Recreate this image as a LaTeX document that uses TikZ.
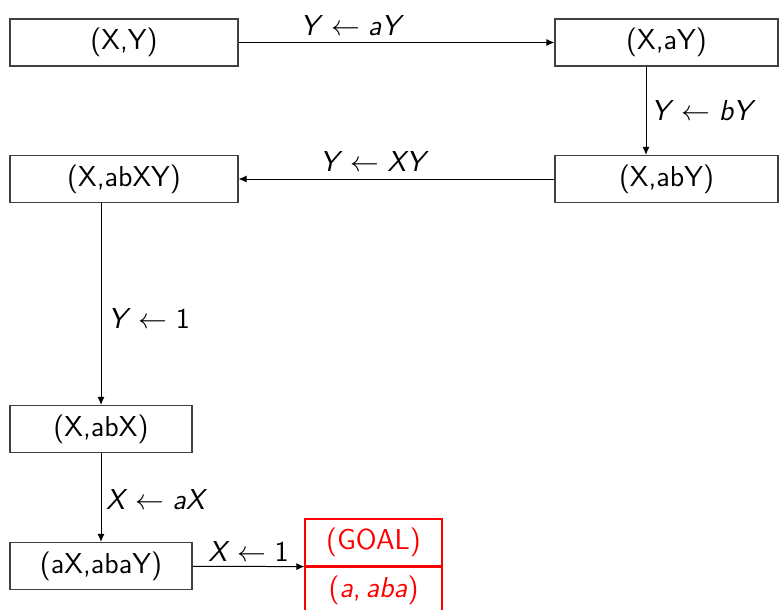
\documentclass[tikz,border=0pt]{standalone}
\usepackage{fontspec}
\usepackage{tikz}
\usetikzlibrary{positioning,arrows.meta,calc}
\definecolor{goal}{HTML}{FF0000}

\newcommand{\rw}[2]{\textit{#1}$\;\leftarrow\;$\textit{#2}}

\begin{document}
\begin{tikzpicture}[
        x=0.5pt, y=-0.5pt,
        every node/.style={font=\sffamily\Large},
        statebox/.style={rectangle, draw=black!75, line width=0.6pt,
        minimum height=23.5pt, inner sep=0pt},
        widebox/.style={statebox, minimum width=114pt},
        rightbox/.style={statebox, minimum width=111.5pt},
        smallbox/.style={statebox, minimum width=91pt},
        goalbox/.style={rectangle, draw=goal, line width=0.6pt,
        minimum width=68.5pt, minimum height=23.5pt, inner sep=0pt,
        text=goal},
        flow/.style={-{Latex[length=4pt,width=3.5pt]}, line width=0.5pt,
        draw=black},
      ]
      \useasboundingbox (0,0) rectangle (779,609);

      % Top row
      \node[widebox] (xy) at (124, 42.5) {(X,Y)};
      \node[rightbox] (xay) at (666.5, 42.5) {(X,aY)};
      \draw[flow] (xy) -- node[above, pos=0.36] {\rw{Y}{aY}} (xay);

      % Second row, going back to the left
      \node[rightbox] (xaby) at (666.5, 179) {(X,abY)};
      \node[widebox] (xabxy) at (124, 179) {(X,abXY)};
      \draw[flow] ([xshift=-10.25pt]xay.south) -- node[right=-1pt]
      {\rw{Y}{bY}} ([xshift=-10.25pt]xaby.north);
      \draw[flow] (xaby) -- node[above, pos=0.57] {\rw{Y}{XY}} (xabxy);

      % Left column down to the goal
      \node[smallbox] (xabx) at (101, 429) {(X,abX)};
      \node[smallbox] (axabay) at (101, 566) {(aX,abaY)};
      \draw[flow] (xabxy.south -| xabx.north) -- node[right, pos=0.57]
      {\rw{Y}{\upshape 1}} (xabx);
      \draw[flow] (xabx) -- node[right=-1pt, pos=0.52] {\rw{X}{aX}}
      (axabay);

      % Goal, split in two parts
      \node[goalbox] (goal) at (373.5, 542.5) {(GOAL)};
      \node[goalbox, below=0pt of goal] (goalval)
      {(\textit{a},\,\textit{aba})};
      \draw[flow] (axabay) -- node[above=-1pt] {\rw{X}{\upshape 1}}
      (goal.south west);
    \end{tikzpicture}
\end{document}
